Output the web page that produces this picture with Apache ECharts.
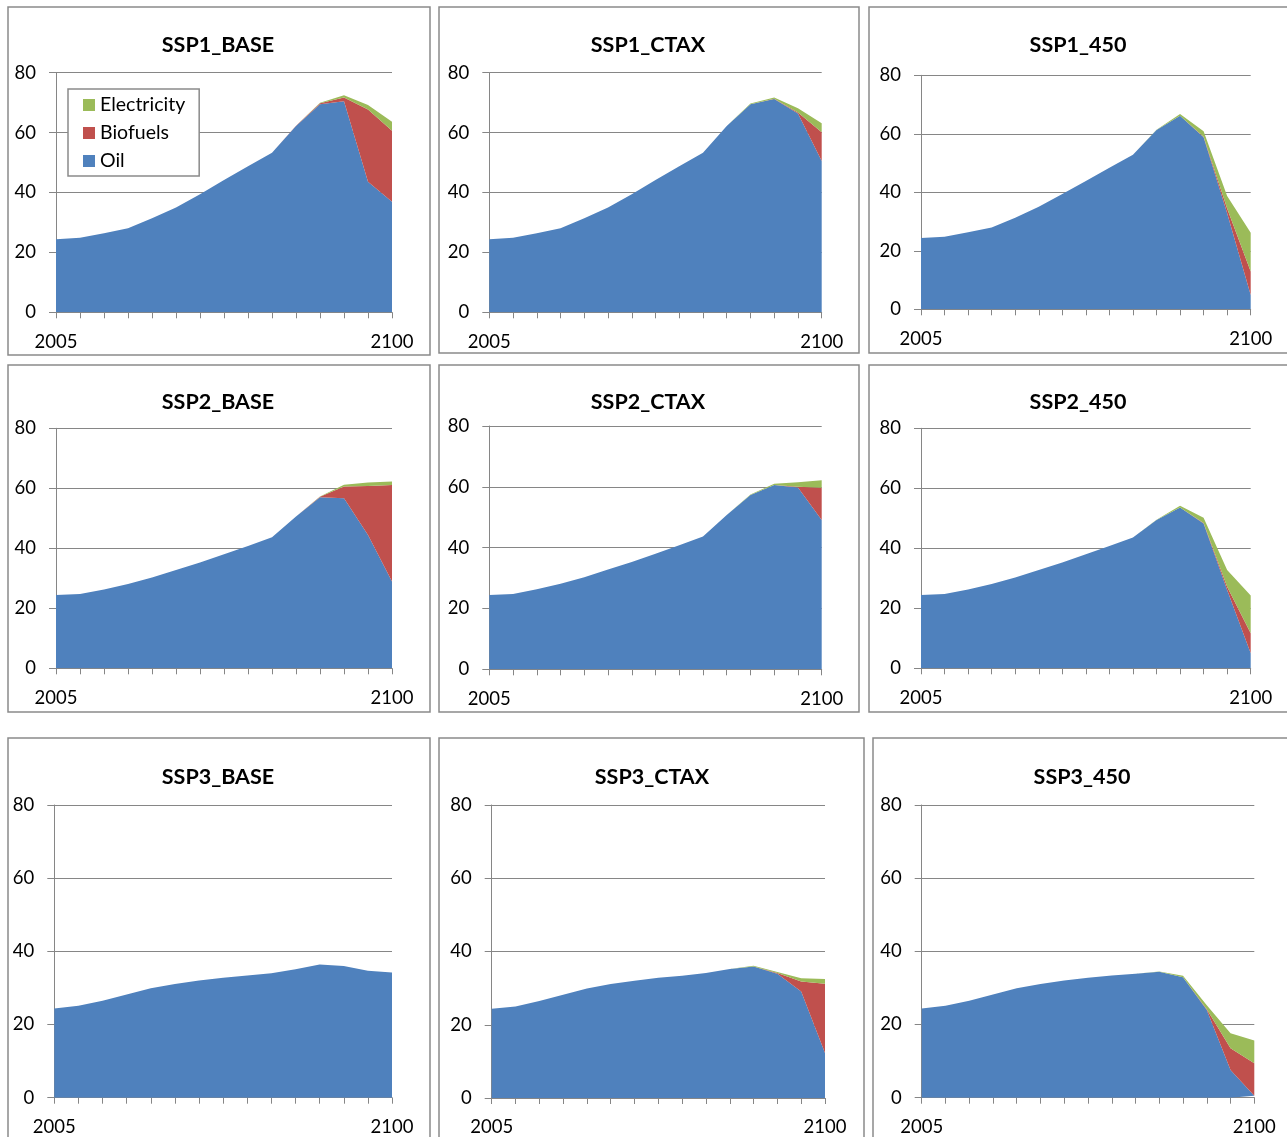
<!DOCTYPE html>
<html>
<head>
<meta charset="utf-8">
<script src="https://cdn.jsdelivr.net/npm/echarts@6/dist/echarts.min.js"></script>
<style>
html,body{margin:0;padding:0;background:#fff;}
#chart{width:1287px;height:1137px;}
</style>
</head>
<body>
<div id="chart"></div>
<script>
// ---- data ----
const years = ['2005','2010','2015','2020','2025','2030','2035','2040','2045','2050','2060','2070','2080','2090','2100'];
const scenarioNames = ['SSP1_BASE','SSP1_CTAX','SSP1_450','SSP2_BASE','SSP2_CTAX','SSP2_450','SSP3_BASE','SSP3_CTAX','SSP3_450'];
const seriesNames = ['Oil','Biofuels','Electricity'];
const yTicks = [0,20,40,60,80];

const ssp1BaseOil  = [24.4,24.9,26.4,28.1,31.4,35.0,39.4,44.2,48.8,53.3,62.2,69.5,70.5,43.6,36.9];
const ssp1BaseBio  = [0,0,0,0,0,0,0,0,0,0,0.1,0.3,1.2,24.1,23.7];
const ssp1BaseElec = [0,0,0,0,0,0,0,0,0,0,0,0.2,0.8,1.5,3.0];

const ssp1CtaxOil  = [24.4,24.9,26.4,28.1,31.4,35.0,39.4,44.2,48.8,53.3,62.2,69.5,71.2,66.4,50.5];
const ssp1CtaxBio  = [0,0,0,0,0,0,0,0,0,0,0,0,0.1,0.3,9.6];
const ssp1CtaxElec = [0,0,0,0,0,0,0,0,0,0,0,0.2,0.4,1.4,3.0];

const ssp1450Oil   = [24.4,24.8,26.3,28.0,31.3,35.1,39.4,43.9,48.4,52.8,61.3,66.2,58.8,32.8,4.9];
const ssp1450Bio   = [0,0,0,0,0,0,0,0,0,0,0,0,0.2,1.7,8.0];
const ssp1450Elec  = [0,0,0,0,0,0,0,0,0,0,0.1,0.6,1.9,4.2,13.3];

const ssp2BaseOil  = [24.4,24.8,26.3,28.1,30.3,32.8,35.3,38.0,40.8,43.7,50.6,57.0,56.7,44.4,28.9];
const ssp2BaseBio  = [0,0,0,0,0,0,0,0,0,0,0,0.2,3.9,16.4,32.2];
const ssp2BaseElec = [0,0,0,0,0,0,0,0,0,0,0,0.1,0.6,1.1,1.2];

const ssp2CtaxOil  = [24.4,24.8,26.3,28.1,30.3,32.8,35.3,38.0,40.8,43.7,50.7,57.3,60.6,59.8,49.1];
const ssp2CtaxBio  = [0,0,0,0,0,0,0,0,0,0,0,0,0,0.2,10.6];
const ssp2CtaxElec = [0,0,0,0,0,0,0,0,0,0,0,0.2,0.4,1.5,2.5];

const ssp2450Oil   = [24.4,24.8,26.3,28.1,30.3,32.8,35.3,38.0,40.8,43.6,49.4,53.6,48.3,26.1,5.0];
const ssp2450Bio   = [0,0,0,0,0,0,0,0,0,0,0,0,0.1,1.1,6.7];
const ssp2450Elec  = [0,0,0,0,0,0,0,0,0,0,0.1,0.6,1.8,5.6,12.6];

const ssp3BaseOil  = [24.4,25.1,26.5,28.2,29.9,31.1,32.0,32.8,33.4,34.0,35.1,36.4,36.0,34.7,34.2];
const ssp3BaseBio  = [0,0,0,0,0,0,0,0,0,0,0,0,0,0,0];
const ssp3BaseElec = [0,0,0,0,0,0,0,0,0,0,0,0,0,0,0];

const ssp3CtaxOil  = [24.4,25.0,26.5,28.2,29.9,31.1,32.0,32.8,33.4,34.1,35.2,35.9,33.9,29.1,12.3];
const ssp3CtaxBio  = [0,0,0,0,0,0,0,0,0,0,0,0,0.2,2.7,18.9];
const ssp3CtaxElec = [0,0,0,0,0,0,0,0,0,0,0,0.2,0.3,0.9,1.3];

const ssp3450Oil   = [24.4,25.1,26.5,28.2,29.9,31.1,32.0,32.8,33.4,33.9,34.4,32.9,24.0,7.6,0.5];
const ssp3450Bio   = [0,0,0,0,0,0,0,0,0,0,0,0,0.2,5.9,8.9];
const ssp3450Elec  = [0,0,0,0,0,0,0,0,0,0,0.1,0.4,1.1,4.1,6.2];

// ---- build ----
const panelData = [
  [ssp1BaseOil, ssp1BaseBio, ssp1BaseElec],
  [ssp1CtaxOil, ssp1CtaxBio, ssp1CtaxElec],
  [ssp1450Oil, ssp1450Bio, ssp1450Elec],
  [ssp2BaseOil, ssp2BaseBio, ssp2BaseElec],
  [ssp2CtaxOil, ssp2CtaxBio, ssp2CtaxElec],
  [ssp2450Oil, ssp2450Bio, ssp2450Elec],
  [ssp3BaseOil, ssp3BaseBio, ssp3BaseElec],
  [ssp3CtaxOil, ssp3CtaxBio, ssp3CtaxElec],
  [ssp3450Oil, ssp3450Bio, ssp3450Elec]
];
const colors = ['#4F81BD','#C0504D','#9BBB59'];
const FONT = 'Lato, Carlito, Calibri, sans-serif';
const GRAY = '#868686';

// plot rectangles [left, top, right, bottom] in px
const plots = [
  [56, 72.7, 392, 312.3],
  [489.3, 72.7, 821.7, 312.3],
  [921, 75.3, 1250.7, 309.3],
  [56, 428.3, 392, 668.3],
  [489.3, 426, 821.7, 669.3],
  [921, 428.3, 1250.7, 668.3],
  [54.3, 805, 392, 1097.7],
  [491.7, 805, 825, 1098.3],
  [921.7, 805, 1254.3, 1097.7]
];
const titlePos = [[218,45],[648,45],[1078,45],[218,402],[648,402],[1078,402],[218,777],[652,777],[1082,777]];
const frames = [
  [8,7,422,348],[439,7,420,346],[869,7,422,346],
  [8,365,422,347],[439,365,420,347],[869,365,422,347],
  [8,738,422,410],[439,738,425,410],[873,738,420,410]
];

const grids = [], xAxes = [], yAxes = [], series = [], titles = [], graphics = [];
plots.forEach((p, i) => {
  grids.push({left: p[0], top: p[1], width: p[2]-p[0], height: p[3]-p[1], containLabel: false});
  xAxes.push({
    gridIndex: i, type: 'category', boundaryGap: false, data: years,
    axisLine: {show: true, lineStyle: {color: GRAY, width: 1}},
    axisTick: {show: true, interval: 0, length: 6, lineStyle: {color: GRAY}},
    axisLabel: {
      interval: (idx) => idx === 0 || idx === years.length - 1,
      color: '#000', fontSize: 18.5, fontFamily: FONT, margin: 20
    },
    splitLine: {show: false}
  });
  yAxes.push({
    gridIndex: i, type: 'value', min: yTicks[0], max: yTicks[yTicks.length-1], interval: yTicks[1]-yTicks[0],
    axisLine: {show: true, lineStyle: {color: GRAY, width: 1}},
    axisTick: {show: true, length: 7, lineStyle: {color: GRAY}},
    axisLabel: {color: '#000', fontSize: 18.5, fontFamily: FONT, margin: 20},
    splitLine: {show: true, lineStyle: {color: GRAY, width: 1}}
  });
  panelData[i].forEach((arr, k) => {
    series.push({
      name: seriesNames[k], type: 'line', xAxisIndex: i, yAxisIndex: i,
      stack: 'p' + i, data: arr, symbol: 'none', showSymbol: false,
      lineStyle: {width: 0}, areaStyle: {color: colors[k], opacity: 1},
      itemStyle: {color: colors[k]}, emphasis: {disabled: true}, animation: false
    });
  });
  titles.push({
    text: scenarioNames[i], left: titlePos[i][0], top: titlePos[i][1],
    textAlign: 'center', textVerticalAlign: 'middle', padding: 0,
    textStyle: {fontFamily: FONT, fontSize: 21.5, fontWeight: 'bold', color: '#000'}
  });
  graphics.push({
    type: 'rect', shape: {x: frames[i][0], y: frames[i][1], width: frames[i][2], height: frames[i][3]},
    style: {fill: 'none', stroke: '#8a8a8a', lineWidth: 1.5}, silent: true, z: -1
  });
});

const chart = echarts.init(document.getElementById('chart'), null, {renderer: 'canvas'});
chart.setOption({
  animation: false,
  backgroundColor: '#fff',
  title: titles,
  grid: grids,
  xAxis: xAxes,
  yAxis: yAxes,
  series: series,
  graphic: graphics,
  legend: {
    data: ['Electricity','Biofuels','Oil'],
    orient: 'vertical', left: 68, top: 89,
    padding: [6, 14, 5, 15], itemGap: 8, itemWidth: 12, itemHeight: 12, icon: 'rect',
    borderColor: '#8a8a8a', borderWidth: 1.5, backgroundColor: '#fff',
    textStyle: {fontFamily: FONT, fontSize: 19.5, color: '#000', lineHeight: 20},
    selectedMode: false
  }
});
</script>
</body>
</html>
